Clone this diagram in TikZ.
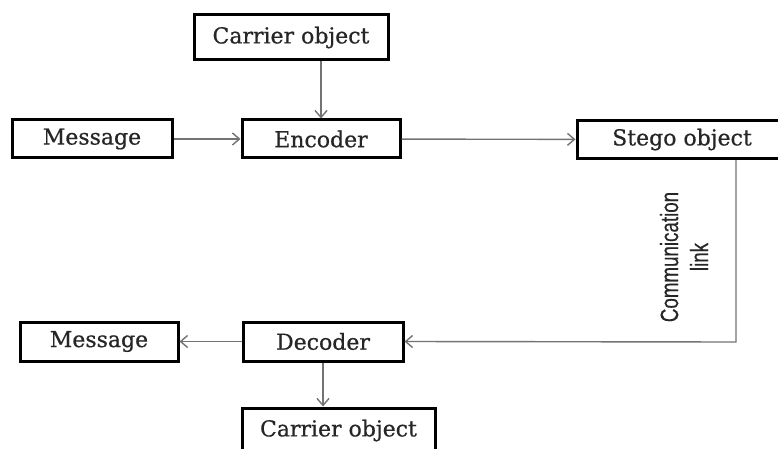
\documentclass[tikz,border=0pt]{standalone}
\usepackage{fontspec}
\setmainfont[FakeBold=0.6]{DejaVu Serif}
\newfontfamily\narrowfont[FakeStretch=0.75,FakeBold=0.4]{Liberation Sans}
\usetikzlibrary{arrows.meta,calc}

\tikzset{
	blockbox/.style={draw=black, line width=3pt, fill=white, inner sep=0pt,
		minimum height=38pt, text=black!85, font=\fontsize{22}{26}\selectfont},
	flow/.style={draw=black!55, line width=1.4pt,
		-{Straight Barb[length=7pt,width=12pt]}}
}

\begin{document}
\begin{tikzpicture}[x=1pt,y=-1pt]
	\clip (0,0) rectangle (778,449);
	% embedding side
	\node[blockbox, minimum width=194pt, minimum height=45pt] (carrierin) at (291,37.5) {Carrier object};
	\node[blockbox, minimum width=160pt] (msgin) at (92,139) {Message};
	\node[blockbox, minimum width=158pt] (enc) at (321,139) {Encoder};
	\node[blockbox, minimum width=210pt] (stego) at (682,139.5) {Stego object};
	% extraction side
	\node[blockbox, minimum width=158pt, minimum height=39pt] (msgout) at (99,341.5) {Message};
	\node[blockbox, minimum width=160pt, minimum height=39pt] (dec) at (323,341.5) {Decoder};
	\node[blockbox, minimum width=193pt, minimum height=45pt] (carrierout) at (338.5,430.5) {Carrier object};
	\coordinate (turn) at (736,342);
	\node[rotate=90, align=center, text=black!85, font=\narrowfont\fontsize{25}{30}\selectfont] (channel) at (684,257) {Communication\\link};

	\draw[flow] (carrierin.south -| enc.north) -- (enc.north);
	\draw[flow] (msgin) -- (enc);
	\draw[flow] (enc) -- (stego);
	\draw[flow] (stego.south -| turn) -- (turn) -- (dec.east);
	\draw[flow] (dec) -- (msgout);
	\draw[flow] (dec.south) -- (carrierout.north -| dec.south);
\end{tikzpicture}
\end{document}
